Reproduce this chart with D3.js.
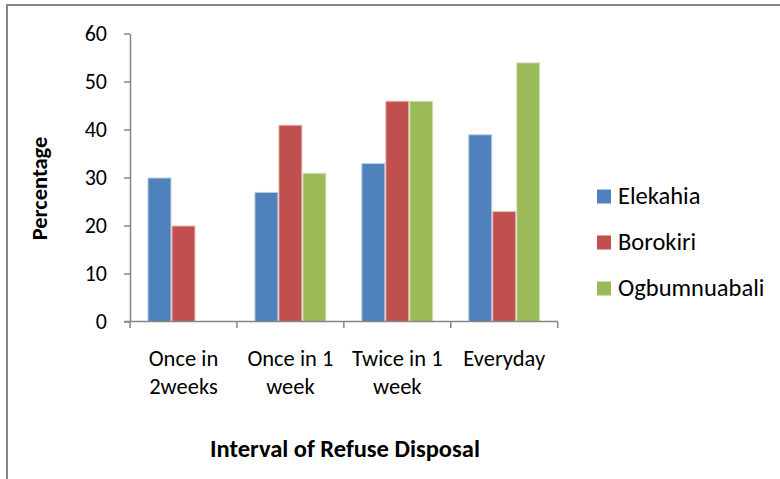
<!DOCTYPE html>
<html>
<head>
<meta charset="utf-8">
<script src="https://cdn.jsdelivr.net/npm/d3@7"></script>
<style>
  html, body { margin: 0; padding: 0; background: #fff; }
  svg { display: block; }
  text { font-family: Carlito, Lato, "Open Sans", sans-serif; fill: #000; }
</style>
</head>
<body>
<svg id="chart" width="780" height="479"></svg>
<script>
// Interval of refuse disposal by community (percent of respondents)
const categories = [["Once in", "2weeks"], ["Once in 1", "week"], ["Twice in 1", "week"], ["Everyday"]];
const seriesNames = ["Elekahia", "Borokiri", "Ogbumnuabali"];
const elekahia = [30, 27, 33, 39];
const borokiri = [20, 41, 46, 23];
const ogbumnuabali = [null, 31, 46, 54];
const yTicks = [0, 10, 20, 30, 40, 50, 60];
const colors = ["#4F81BD", "#C0504D", "#9BBB59"];
const edgeColors = ["#B9CDE5", "#E6B9B8", "#D7E4BD"];

const values = [elekahia, borokiri, ogbumnuabali];
const svg = d3.select("#chart");

// outer frame of the chart area
svg.append("rect")
  .attr("x", 7).attr("y", 5)
  .attr("width", 800).attr("height", 500)
  .attr("fill", "none").attr("stroke", "#868686").attr("stroke-width", 2);

const plot = { left: 130, right: 557.7, top: 33.5, bottom: 321.5 };

const x = d3.scaleBand()
  .domain(d3.range(categories.length))
  .range([plot.left, plot.right])
  .paddingInner(0).paddingOuter(0);

const inner = d3.scaleBand()
  .domain(d3.range(seriesNames.length))
  .range([0, x.bandwidth()])
  .paddingOuter(0.73).paddingInner(0);

const y = d3.scaleLinear().domain([0, 60]).range([plot.bottom, plot.top]);

// y axis
const yAxis = svg.append("g")
  .attr("transform", `translate(${plot.left},0)`)
  .call(d3.axisLeft(y).tickValues(yTicks).tickSize(6).tickSizeOuter(0).tickPadding(17));
yAxis.select(".domain").attr("stroke", "#868686").attr("stroke-width", 1.5);
yAxis.selectAll(".tick line").attr("stroke", "#868686").attr("stroke-width", 1.5);
yAxis.selectAll(".tick text")
  .attr("font-family", "Carlito, Lato, sans-serif")
  .attr("font-size", 22).attr("fill", "#000");

// bars
seriesNames.forEach((name, s) => {
  svg.append("g").selectAll("rect")
    .data(values[s].map((v, i) => ({ v, i })).filter(d => d.v != null))
    .join("rect")
    .attr("x", d => x(d.i) + inner(s) + 0.5)
    .attr("y", d => y(d.v) + 0.5)
    .attr("width", inner.bandwidth() - 1)
    .attr("height", d => y(0) - y(d.v) - 0.5)
    .attr("fill", colors[s])
    .attr("stroke", edgeColors[s])
    .attr("stroke-width", 1);
});

// x axis line and boundary ticks
const xAxis = svg.append("g");
xAxis.append("line")
  .attr("x1", plot.left - 6).attr("x2", plot.right)
  .attr("y1", y(0)).attr("y2", y(0))
  .attr("stroke", "#868686").attr("stroke-width", 1.5);
const boundaries = d3.range(categories.length + 1).map(i => i < categories.length ? x(i) : plot.right);
xAxis.selectAll("line.tick")
  .data(boundaries)
  .join("line")
  .attr("class", "tick")
  .attr("x1", d => d).attr("x2", d => d)
  .attr("y1", y(0)).attr("y2", y(0) + 6.5)
  .attr("stroke", "#868686").attr("stroke-width", 1.5);

// category labels
categories.forEach((lines, i) => {
  const t = svg.append("text")
    .attr("x", x(i) + x.bandwidth() / 2)
    .attr("y", 365.5)
    .attr("text-anchor", "middle")
    .attr("font-size", 22.5);
  lines.forEach((ln, k) => {
    t.append("tspan")
      .attr("x", x(i) + x.bandwidth() / 2)
      .attr("dy", k === 0 ? 0 : 28)
      .text(ln);
  });
});

// axis titles
svg.append("text")
  .attr("x", 345).attr("y", 456.5)
  .attr("text-anchor", "middle")
  .attr("font-size", 24.5).attr("font-weight", "bold")
  .text("Interval of Refuse Disposal");

svg.append("text")
  .attr("transform", "translate(47,188.5) rotate(-90)")
  .attr("text-anchor", "middle")
  .attr("font-size", 22.5).attr("font-weight", "bold")
  .text("Percentage");

// legend
const legend = svg.append("g");
seriesNames.forEach((name, s) => {
  const cy = 196.5 + s * 46;
  legend.append("rect")
    .attr("x", 597).attr("y", cy - 7)
    .attr("width", 14).attr("height", 14)
    .attr("fill", colors[s]);
  legend.append("text")
    .attr("x", 618).attr("y", cy + 7.5)
    .attr("font-size", 24.5)
    .text(name);
});
</script>
</body>
</html>
